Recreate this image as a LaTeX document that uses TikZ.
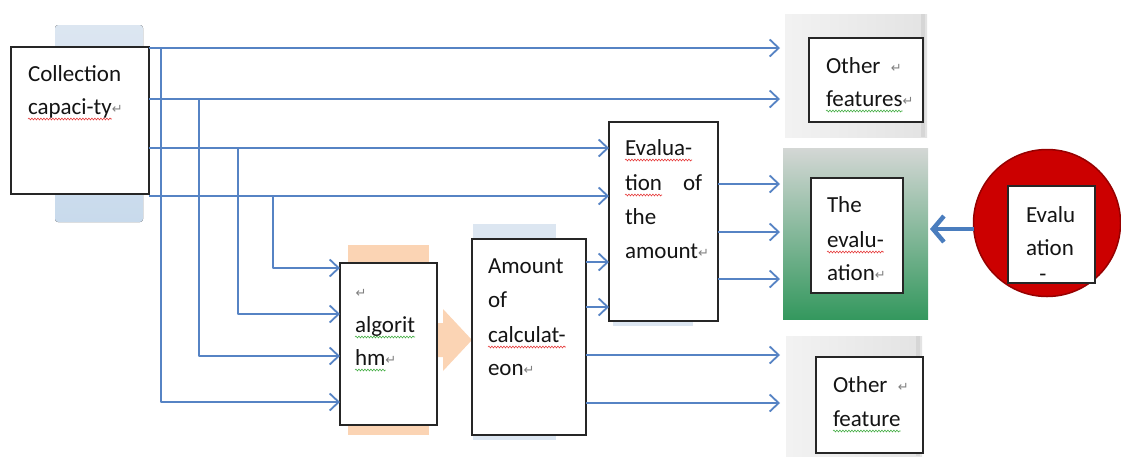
\documentclass[tikz,border=0pt]{standalone}
\usepackage{fontspec}
\setmainfont{Carlito}
\newfontfamily\symfont{DejaVu Sans}
\usetikzlibrary{arrows.meta,decorations.pathmorphing,calc}
\definecolor{lineblue}{RGB}{86,131,196}
\definecolor{bigblue}{RGB}{74,125,190}
\definecolor{orangebg}{RGB}{251,212,180}
\definecolor{lightbluebg}{RGB}{220,230,241}
\definecolor{redfill}{RGB}{204,0,0}
\definecolor{reddraw}{RGB}{150,0,0}
\definecolor{squigred}{RGB}{230,60,60}
\definecolor{squiggreen}{RGB}{70,175,70}
\definecolor{txtcol}{RGB}{20,20,20}
\newcommand\pmark{\rlap{{\symfont\fontsize{13}{13}\selectfont\color{gray}\raisebox{1pt}{↵}}}}
\newcommand\mytext[4]{\node[txt] (#1) at (#2,#3) {#4};}
\begin{document}
\begin{tikzpicture}[x=1pt,y=-1pt,
  box/.style={draw=black!85, line width=1.2pt, fill=white, inner sep=0pt, outer sep=0pt},
  graybox/.style={left color=black!5, right color=black!11, inner sep=0pt, outer sep=0pt},
  txt/.style={anchor=base west, inner sep=0pt, outer sep=0pt, font=\fontsize{23}{28}\selectfont, text=txtcol},
  conn/.style={draw=lineblue, line width=1.8pt, line join=round, -{Straight Barb[length=9pt,width=17pt]}},
  bigarrow/.style={draw=bigblue, line width=4.5pt, -{Straight Barb[length=11pt,width=26pt]}},
  squig/.style={decorate, decoration={snake, amplitude=0.9pt, segment length=3pt}, line width=0.6pt},
]
\useasboundingbox (0,0) rectangle (1121,456);

% backgrounds
\fill[top color=lightbluebg, bottom color={rgb,255:red,200;green,218;blue,236}, rounded corners=3pt] (55,25) rectangle (143,222);
\fill[orangebg] (348,245) rectangle (429,435);
\fill[lightbluebg] (473,224) rectangle (556,440);
\fill[lightbluebg] (613,140) rectangle (693,326);
\fill[orangebg] (437,323) -- (443,323) -- (443,309) -- (472,340) -- (443,371) -- (443,357) -- (437,357) -- cycle;

% main boxes
\node[box, minimum width=138pt, minimum height=147pt] (coll) at (80,120.5) {};
\node[box, minimum width=97pt, minimum height=162pt] (alg) at (388.5,344) {};
\node[box, minimum width=114pt, minimum height=196pt] (amt) at (529,337) {};
\node[box, minimum width=109pt, minimum height=199pt] (eva) at (663.5,221.5) {};

% right side
\node[graybox, minimum width=142pt, minimum height=123pt] (ofA) at (856,75.5) {};
\fill[black!16] ($(ofA.north east)+(-6,0)$) rectangle ($(ofA.south east)+(-2,0)$);
\node[box, minimum width=114pt, minimum height=84pt] (ofAin) at (866,80) {};

\node[top color={rgb,255:red,212;green,215;blue,213}, bottom color={rgb,255:red,52;green,152;blue,94}, minimum width=145pt, minimum height=171pt, inner sep=0pt, outer sep=0pt] (grn) at (855.5,233.5) {};
\node[box, minimum width=92pt, minimum height=115pt] (evin) at (857,235.5) {};

\node[graybox, minimum width=136pt, minimum height=120pt] (ofB) at (854,396) {};
\fill[black!16] ($(ofB.north east)+(-6,0)$) rectangle ($(ofB.south east)+(-2,0)$);
\node[box, minimum width=107pt, minimum height=96pt] (ofBin) at (869.5,405) {};

\node[circle, fill=redfill, draw=reddraw, line width=1.5pt, minimum size=147pt, inner sep=0pt, outer sep=0pt] (circ) at (1047,223) {};
\node[box, minimum width=87pt, minimum height=97pt] (cin) at (1051.5,234.5) {};

% connector levels
\coordinate (hA) at (0,48);
\coordinate (hB) at (0,99);
\coordinate (hC) at (0,148);
\coordinate (hD) at (0,196);
\coordinate (vA) at (161,0);
\coordinate (vB) at (199,0);
\coordinate (vC) at (238,0);
\coordinate (vD) at (273,0);
\coordinate (aA) at (0,402);
\coordinate (aB) at (0,356);
\coordinate (aC) at (0,314);
\coordinate (aD) at (0,268);
\coordinate (mA) at (0,262);
\coordinate (mB) at (0,307);
\coordinate (mC) at (0,355);
\coordinate (mD) at (0,403);
\coordinate (eA) at (0,184);
\coordinate (eB) at (0,232);
\coordinate (eC) at (0,279);
\coordinate (hE) at (0,229);

% connectors
\draw[conn, shorten >=5pt] (coll.east |- hA) -- (ofA.west |- hA);
\draw[conn, shorten >=5pt] (coll.east |- hB) -- (ofA.west |- hB);
\draw[conn] (coll.east |- hC) -- (eva.west |- hC);
\draw[conn] (coll.east |- hD) -- (eva.west |- hD);
\draw[conn] (vA |- hA) -- (vA |- aA) -- (alg.west |- aA);
\draw[conn] (vB |- hB) -- (vB |- aB) -- (alg.west |- aB);
\draw[conn] (vC |- hC) -- (vC |- aC) -- (alg.west |- aC);
\draw[conn] (vD |- hD) -- (vD |- aD) -- (alg.west |- aD);
\draw[conn] (amt.east |- mA) -- (eva.west |- mA);
\draw[conn] (amt.east |- mB) -- (eva.west |- mB);
\draw[conn, shorten >=6pt] (amt.east |- mC) -- (ofB.west |- mC);
\draw[conn, shorten >=6pt] (amt.east |- mD) -- (ofB.west |- mD);
\draw[conn, shorten >=3pt] (eva.east |- eA) -- (grn.west |- eA);
\draw[conn, shorten >=3pt] (eva.east |- eB) -- (grn.west |- eB);
\draw[conn, shorten >=3pt] (eva.east |- eC) -- (grn.west |- eC);
\draw[bigarrow, shorten >=2pt] (circ.west |- hE) -- (grn.east |- hE);

% texts
\mytext{t1}{28}{81}{Collection}
\mytext{t2}{28}{114}{capaci-ty\pmark}
\mytext{t3}{355}{298}{\pmark}
\mytext{t4}{355}{332}{algorit}
\mytext{t5}{355}{365}{hm\pmark}
\mytext{t6}{488}{273}{Amount}
\mytext{t7}{488}{307}{of}
\mytext{t8}{488}{342}{calculat-}
\mytext{t9}{488}{375}{eon\pmark}
\mytext{t10}{625}{155}{Evalua-}
\mytext{t11}{625}{190}{tion}
\mytext{t12}{683}{190}{of}
\mytext{t13}{625}{224}{the}
\mytext{t14}{625}{258}{amount\pmark}
\mytext{t15}{827}{212}{The}
\mytext{t16}{827}{247}{evalu-}
\mytext{t17}{827}{280}{ation\pmark}
\mytext{t18}{826}{73}{Other~~\pmark}
\mytext{t19}{826}{106}{features\pmark}
\mytext{t20}{833}{392}{Other~~\pmark}
\mytext{t21}{833}{426}{feature}
\mytext{t22}{1026}{222}{Evalu}
\mytext{t23}{1026}{255}{ation}
\node[inner sep=0pt, anchor=base, font=\fontsize{23}{28}\selectfont, text=txtcol] (t24) at (1043,281) {-};

% spelling squiggles
\draw[squig, squigred] ($(t2.base west)+(0,5)$) -- ($(t2.base east)+(0,5)$);
\draw[squig, squiggreen] ($(t4.base west)+(0,5)$) -- ($(t4.base east)+(0,5)$);
\draw[squig, squiggreen] ($(t5.base west)+(0,5)$) -- ($(t5.base east)+(0,5)$);
\draw[squig, squigred] ($(t8.base west)+(0,5)$) -- ($(t8.base east)+(0,5)$);
\draw[squig, squigred] ($(t10.base west)+(0,5)$) -- ($(t10.base east)+(0,5)$);
\draw[squig, squigred] ($(t11.base west)+(0,5)$) -- ($(t11.base east)+(0,5)$);
\draw[squig, squigred] ($(t16.base west)+(0,5)$) -- ($(t16.base east)+(0,5)$);
\draw[squig, squiggreen] ($(t19.base west)+(0,5)$) -- ($(t19.base east)+(0,5)$);
\draw[squig, squiggreen] ($(t21.base west)+(0,5)$) -- ($(t21.base east)+(0,5)$);
\end{tikzpicture}
\end{document}
